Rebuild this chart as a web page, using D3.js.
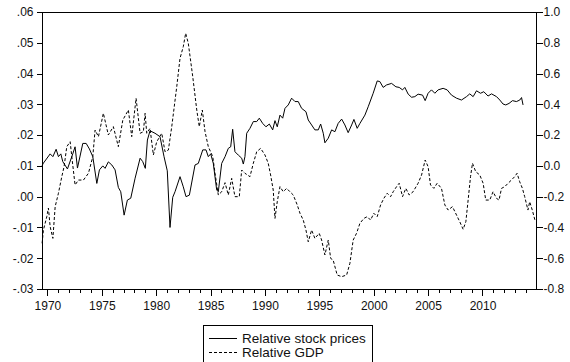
<!DOCTYPE html>
<html>
<head>
<meta charset="utf-8">
<script src="https://cdn.jsdelivr.net/npm/d3@7/dist/d3.min.js"></script>
<style>
  html, body { margin: 0; padding: 0; background: #fff; }
  svg { display: block; }
  text { font-family: "Liberation Sans", Arial, sans-serif; fill: #111; }
</style>
</head>
<body>
<svg id="chart" width="570" height="362"></svg>
<script>
// ---- Data ----
const stockYears = [1969.51,1969.63,1970.25,1970.50,1970.80,1971.01,1971.23,1971.41,1971.84,1972.33,1972.54,1972.76,1973.00,1973.25,1973.56,1973.86,1974.17,1974.54,1974.78,1975.09,1975.30,1975.60,1975.92,1976.22,1976.52,1976.74,1977.05,1977.35,1977.66,1978.06,1978.52,1978.76,1979.00,1979.19,1979.43,1979.89,1980.35,1980.72,1981.02,1981.27,1981.52,1981.73,1982.19,1982.49,1982.74,1983.05,1983.57,1983.87,1984.28,1984.58,1984.79,1985.01,1985.25,1985.56,1985.71,1986.02,1986.33,1986.63,1986.85,1987.03,1987.24,1987.55,1987.86,1988.01,1988.16,1988.32,1988.62,1988.93,1989.24,1989.48,1989.79,1990.09,1990.40,1990.71,1990.92,1991.13,1991.38,1991.63,1991.84,1992.14,1992.45,1992.76,1993.06,1993.37,1993.77,1993.98,1994.29,1994.59,1994.90,1995.12,1995.36,1995.51,1995.82,1996.13,1996.43,1996.73,1997.05,1997.35,1997.65,1997.97,1998.18,1998.48,1998.73,1999.19,1999.49,1999.95,2000.32,2000.56,2000.87,2001.18,2001.64,2002.04,2002.34,2002.65,2002.86,2003.17,2003.48,2003.78,2004.08,2004.49,2004.73,2005.00,2005.31,2005.62,2005.92,2006.38,2006.75,2007.15,2007.61,2008.07,2008.53,2008.83,2009.14,2009.45,2009.82,2010.12,2010.51,2010.83,2011.29,2011.59,2011.89,2012.14,2012.44,2012.76,2013.12,2013.43,2013.59,2013.73];
const stockValues = [0.0101,0.0109,0.0139,0.0130,0.0154,0.0130,0.0139,0.0114,0.0090,0.0139,0.0162,0.0093,0.0132,0.0173,0.0173,0.0155,0.0130,0.0043,0.0087,0.0100,0.0092,0.0113,0.0103,0.0087,0.0030,0.0016,-0.0060,-0.0011,-0.0005,0.0060,0.0125,0.0114,0.0092,0.0184,0.0214,0.0206,0.0195,0.0130,0.0084,-0.0100,-0.0002,0.0016,0.0065,0.0032,0.0000,0.0005,0.0103,0.0108,0.0152,0.0152,0.0130,0.0139,0.0108,0.0022,0.0016,0.0108,0.0130,0.0157,0.0162,0.0219,0.0146,0.0135,0.0125,0.0106,0.0130,0.0206,0.0222,0.0244,0.0244,0.0255,0.0238,0.0227,0.0236,0.0217,0.0247,0.0227,0.0265,0.0255,0.0287,0.0298,0.0320,0.0309,0.0309,0.0287,0.0276,0.0249,0.0233,0.0217,0.0217,0.0236,0.0206,0.0175,0.0190,0.0217,0.0211,0.0238,0.0252,0.0233,0.0208,0.0233,0.0251,0.0222,0.0238,0.0265,0.0292,0.0336,0.0376,0.0374,0.0355,0.0363,0.0368,0.0357,0.0355,0.0347,0.0355,0.0333,0.0323,0.0325,0.0333,0.0330,0.0312,0.0336,0.0347,0.0336,0.0347,0.0352,0.0347,0.0330,0.0320,0.0314,0.0325,0.0334,0.0325,0.0344,0.0336,0.0341,0.0327,0.0334,0.0325,0.0314,0.0301,0.0298,0.0303,0.0312,0.0309,0.0314,0.0322,0.0298];

const gdpYears = [1969.51,1969.63,1969.94,1970.09,1970.25,1970.50,1970.71,1971.01,1971.32,1971.53,1971.78,1972.09,1972.24,1972.54,1972.85,1973.31,1973.77,1974.17,1974.38,1974.69,1975.14,1975.60,1976.06,1976.52,1976.93,1977.44,1977.75,1978.15,1978.52,1978.82,1978.98,1979.13,1979.43,1979.74,1980.05,1980.51,1980.81,1981.12,1981.43,1981.89,1982.19,1982.49,1982.71,1982.95,1983.36,1983.73,1983.96,1984.24,1984.49,1984.79,1985.20,1985.41,1985.71,1986.02,1986.33,1986.63,1986.94,1987.24,1987.64,1987.86,1988.16,1988.62,1988.93,1989.24,1989.60,1990.00,1990.30,1990.52,1990.76,1990.92,1991.13,1991.38,1991.68,1991.99,1992.30,1992.60,1992.97,1993.22,1993.52,1993.77,1993.98,1994.29,1994.59,1994.99,1995.21,1995.51,1995.82,1996.04,1996.27,1996.64,1997.05,1997.51,1997.81,1998.11,1998.42,1998.73,1999.10,1999.40,1999.71,2000.01,2000.32,2000.63,2000.93,2001.24,2001.55,2001.79,2002.10,2002.34,2002.65,2002.95,2003.26,2003.62,2004.08,2004.40,2004.73,2005.00,2005.22,2005.53,2005.83,2006.23,2006.54,2006.84,2007.24,2007.61,2007.91,2008.22,2008.47,2008.68,2008.90,2009.08,2009.38,2009.75,2010.06,2010.30,2010.67,2010.97,2011.29,2011.52,2011.75,2012.05,2012.35,2012.66,2012.96,2013.18,2013.42,2013.67,2013.88,2014.18,2014.34,2014.59,2014.85];
const gdpValues = [-0.503,-0.417,-0.330,-0.274,-0.395,-0.471,-0.265,-0.178,-0.070,-0.005,0.125,0.157,0.060,-0.124,-0.092,-0.092,-0.048,0.060,0.233,0.190,0.342,0.201,0.255,0.125,0.298,0.363,0.190,0.439,0.212,0.222,0.342,0.212,0.244,0.071,0.157,0.212,0.092,0.103,0.255,0.515,0.699,0.775,0.862,0.797,0.580,0.363,0.255,0.363,0.222,0.125,0.060,-0.048,-0.189,-0.168,-0.109,-0.189,-0.081,-0.200,-0.200,-0.027,-0.048,-0.070,0.017,0.092,0.114,0.071,0.017,-0.059,-0.157,-0.341,-0.233,-0.135,-0.168,-0.146,-0.168,-0.189,-0.254,-0.308,-0.352,-0.417,-0.493,-0.417,-0.471,-0.438,-0.482,-0.579,-0.482,-0.601,-0.612,-0.709,-0.720,-0.709,-0.633,-0.482,-0.438,-0.373,-0.341,-0.330,-0.352,-0.308,-0.330,-0.254,-0.211,-0.178,-0.200,-0.168,-0.135,-0.113,-0.200,-0.146,-0.189,-0.168,-0.113,-0.059,0.038,-0.005,-0.124,-0.146,-0.113,-0.146,-0.254,-0.287,-0.265,-0.319,-0.363,-0.412,-0.363,-0.222,-0.070,0.017,-0.038,-0.059,-0.113,-0.222,-0.222,-0.168,-0.211,-0.222,-0.146,-0.135,-0.113,-0.092,-0.070,-0.048,-0.103,-0.146,-0.200,-0.287,-0.233,-0.290,-0.360];

const leftTicks = [0.06,0.05,0.04,0.03,0.02,0.01,0.00,-0.01,-0.02,-0.03];
const leftTickLabels = [".06",".05",".04",".03",".02",".01",".00","-.01","-.02","-.03"];
const rightTicks = [1.0,0.8,0.6,0.4,0.2,0.0,-0.2,-0.4,-0.6,-0.8];
const rightTickLabels = ["1.0","0.8","0.6","0.4","0.2","0.0","-0.2","-0.4","-0.6","-0.8"];
const majorYears = [1970,1975,1980,1985,1990,1995,2000,2005,2010];
const seriesNames = ["Relative stock prices","Relative GDP"];

// ---- Layout ----
const L = 42, R = 536, T = 12, B = 289;
const svg = d3.select("#chart");

const x = d3.scaleLinear().domain([1969.5, 2014.92]).range([L, R]);
const yL = d3.scaleLinear().domain([-0.03, 0.06]).range([B, T]);
const yR = d3.scaleLinear().domain([-0.8, 1.0]).range([B, T]);

// Left axis
const leftAxis = d3.axisLeft(yL).tickValues(leftTicks).tickSize(6).tickPadding(3)
  .tickFormat((d, i) => leftTickLabels[i]);
const gL = svg.append("g").attr("transform", `translate(${L + 0.5},0)`).call(leftAxis);

// Right axis
const rightAxis = d3.axisRight(yR).tickValues(rightTicks).tickSize(6).tickPadding(1)
  .tickFormat((d, i) => rightTickLabels[i]);
const gR = svg.append("g").attr("transform", `translate(${R + 0.5},0)`).call(rightAxis);

// Bottom axis: minor yearly ticks, then major labelled ticks
const minorYears = d3.range(1970, 2015);
const gMinor = svg.append("g").attr("transform", `translate(0,${B + 0.5})`)
  .call(d3.axisBottom(x).tickValues(minorYears).tickSize(3).tickFormat(""));
const gMajor = svg.append("g").attr("transform", `translate(0,${B + 0.5})`)
  .call(d3.axisBottom(x).tickValues(majorYears).tickSize(6).tickPadding(6).tickFormat(d3.format("d")));

[gL, gR, gMinor, gMajor].forEach(g => {
  g.selectAll(".domain").remove();
  g.selectAll(".tick line").attr("stroke", "#000").attr("shape-rendering", "crispEdges");
  g.selectAll("text").style("font-size", "12px").style("font-family", '"Liberation Sans", Arial, sans-serif').attr("fill", "#111");
});

// Frame
svg.append("rect")
  .attr("x", L + 0.5).attr("y", T + 0.5)
  .attr("width", R - L).attr("height", B - T)
  .attr("fill", "none").attr("stroke", "#000").attr("stroke-width", 1)
  .attr("shape-rendering", "crispEdges");

// Lines
const stockData = stockYears.map((yr, i) => [yr, stockValues[i]]);
const gdpData = gdpYears.map((yr, i) => [yr, gdpValues[i]]);

svg.append("path").datum(stockData)
  .attr("fill", "none").attr("stroke", "#000").attr("stroke-width", 1)
  .attr("d", d3.line().x(d => x(d[0])).y(d => yL(d[1])));

svg.append("path").datum(gdpData)
  .attr("fill", "none").attr("stroke", "#000").attr("stroke-width", 1)
  .attr("stroke-dasharray", "3,2")
  .attr("d", d3.line().x(d => x(d[0])).y(d => yR(d[1])));

// Legend
const lg = svg.append("g");
lg.append("rect").attr("x", 203.5).attr("y", 325.5).attr("width", 169).attr("height", 45)
  .attr("fill", "#fff").attr("stroke", "#000").attr("stroke-width", 1).attr("shape-rendering", "crispEdges");
const rows = [{y: 338.5, dash: null}, {y: 352.5, dash: "3,2"}];
rows.forEach((r, i) => {
  lg.append("line").attr("x1", 209).attr("x2", 237).attr("y1", r.y).attr("y2", r.y)
    .attr("stroke", "#000").attr("stroke-width", 1).attr("stroke-dasharray", r.dash);
  lg.append("text").attr("x", 242).attr("y", r.y + 4.5)
    .style("font-size", "13.5px").text(seriesNames[i]);
});
</script>
</body>
</html>
